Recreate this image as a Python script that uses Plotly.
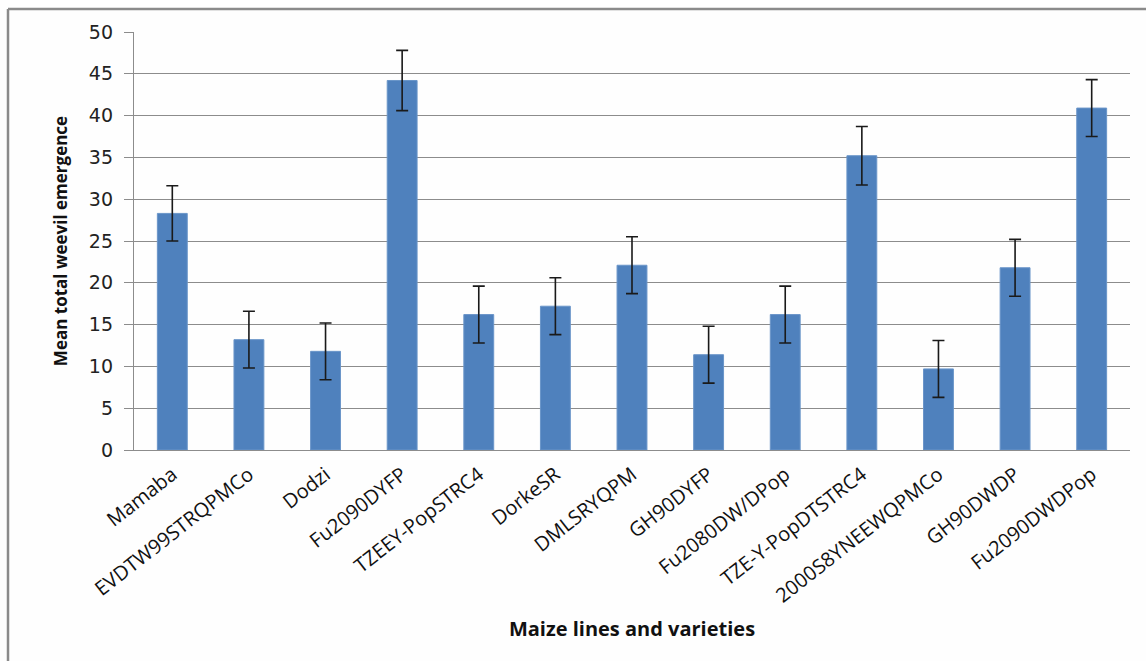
import plotly.graph_objects as go

# Maize lines / varieties and mean total weevil emergence (+/- error)
lines = [
    "Mamaba", "EVDTW99STRQPMCo", "Dodzi", "Fu2090DYFP", "TZEEY-PopSTRC4",
    "DorkeSR", "DMLSRYQPM", "GH90DYFP", "Fu2080DW/DPop", "TZE-Y-PopDTSTRC4",
    "2000S8YNEEWQPMCo", "GH90DWDP", "Fu2090DWDPop",
]
mean_emergence = [28.3, 13.2, 11.8, 44.2, 16.2, 17.2, 22.1, 11.4, 16.2, 35.2, 9.7, 21.8, 40.9]
error = [3.3, 3.4, 3.4, 3.6, 3.4, 3.4, 3.4, 3.4, 3.4, 3.5, 3.4, 3.4, 3.4]
y_ticks = [0, 5, 10, 15, 20, 25, 30, 35, 40, 45, 50]

GRID = "#8c8c8c"

fig = go.Figure(
    go.Bar(
        x=lines,
        y=mean_emergence,
        marker=dict(color="#4f81bd", line=dict(color="#6a95c9", width=1)),
        error_y=dict(type="data", array=error, visible=True,
                     color="#1a1a1a", thickness=1.6, width=6),
        width=0.39,
    )
)

fig.update_layout(
    width=1146,
    height=661,
    margin=dict(l=134, r=16, t=32, b=211),
    paper_bgcolor="#fefefe",
    plot_bgcolor="#fefefe",
    showlegend=False,
    font=dict(family="Open Sans", color="#111111"),
)

fig.update_yaxes(
    range=[0, 50],
    tickvals=y_ticks,
    showgrid=True,
    gridcolor=GRID,
    gridwidth=1.3,
    showline=True,
    linecolor=GRID,
    linewidth=1.3,
    ticks="outside",
    ticklen=9,
    tickcolor=GRID,
    tickwidth=1.3,
    ticklabelstandoff=7,
    tickfont=dict(family="DejaVu Sans", size=19, color="#222222"),
    zeroline=False,
    title=dict(text="<b>Mean total weevil emergence</b>",
               font=dict(family="Open Sans", size=17, color="#111111"),
               standoff=16),
)

fig.update_xaxes(
    showline=True,
    linecolor=GRID,
    linewidth=1.3,
    tickangle=-38,
    ticklabelstandoff=4,
    tickfont=dict(family="Open Sans", size=20, color="#111111"),
    title=dict(text="<b>Maize lines and varieties</b>",
               font=dict(family="Open Sans", size=20, color="#111111"),
               standoff=14),
)

# chart-area frame (top and left edges)
frame_left = -126 / 996
frame_top = (661 - 211 - 9) / 418
fig.add_shape(type="line", xref="paper", yref="paper",
              x0=frame_left, x1=1.05, y0=frame_top, y1=frame_top,
              line=dict(color="#8a8a8a", width=2.5))
fig.add_shape(type="line", xref="paper", yref="paper",
              x0=frame_left, x1=frame_left, y0=-211 / 418, y1=frame_top,
              line=dict(color="#8a8a8a", width=2.5))

fig.write_html("out.html")
